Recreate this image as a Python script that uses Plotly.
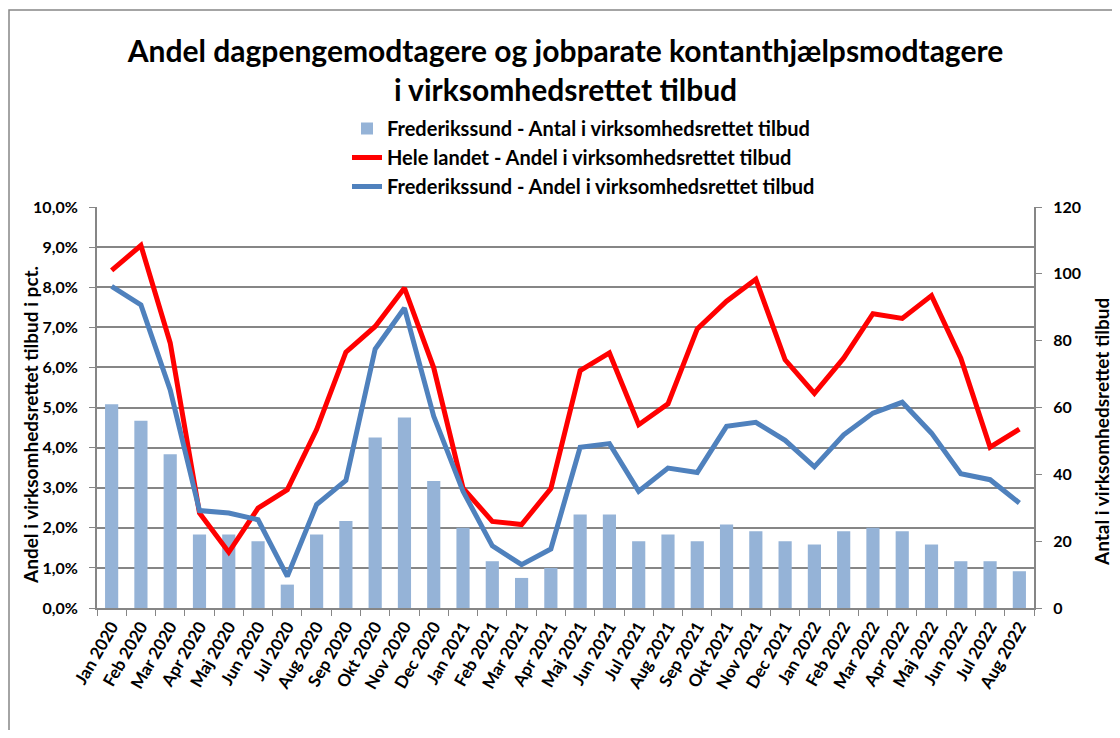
import plotly.graph_objects as go

# Månedlige observationer, jan 2020 - aug 2022
months = ["Jan 2020", "Feb 2020", "Mar 2020", "Apr 2020", "Maj 2020", "Jun 2020",
          "Jul 2020", "Aug 2020", "Sep 2020", "Okt 2020", "Nov 2020", "Dec 2020",
          "Jan 2021", "Feb 2021", "Mar 2021", "Apr 2021", "Maj 2021", "Jun 2021",
          "Jul 2021", "Aug 2021", "Sep 2021", "Okt 2021", "Nov 2021", "Dec 2021",
          "Jan 2022", "Feb 2022", "Mar 2022", "Apr 2022", "Maj 2022", "Jun 2022",
          "Jul 2022", "Aug 2022"]

antal_frederikssund = [61, 56, 46, 22, 22, 20, 7, 22, 26, 51, 57, 38,
                       24, 14, 9, 12, 28, 28, 20, 22, 20, 25, 23, 20,
                       19, 23, 24, 23, 19, 14, 14, 11]

andel_hele_landet = [8.42, 9.04, 6.61, 2.37, 1.39, 2.49, 2.95, 4.45, 6.38, 7.02, 7.98, 5.99,
                     2.99, 2.16, 2.08, 2.98, 5.92, 6.36, 4.57, 5.09, 6.96, 7.65, 8.20, 6.19,
                     5.35, 6.23, 7.34, 7.22, 7.79, 6.23, 4.01, 4.46]

andel_frederikssund = [8.02, 7.56, 5.44, 2.43, 2.37, 2.20, 0.79, 2.58, 3.18, 6.46, 7.48, 4.78,
                       2.91, 1.55, 1.08, 1.47, 4.01, 4.10, 2.91, 3.49, 3.38, 4.53, 4.63, 4.18,
                       3.52, 4.32, 4.86, 5.13, 4.36, 3.35, 3.20, 2.62]

FONT = "Lato"
GRID = "#868686"

# page body adds an 8px margin, so keep the figure inside the window
W, H = 1104, 722
L, R, T, B = 89, 78, 199, 122
PW, PH = W - L - R, H - T - B


def px_x(x):
    # figure pixel -> paper x
    return (x - L) / PW


def px_y(y):
    # figure pixel (from top) -> paper y
    return (H - B - y) / PH


fig = go.Figure()

fig.add_trace(go.Bar(
    x=months, y=antal_frederikssund,
    name="Frederikssund - Antal i virksomhedsrettet tilbud",
    marker=dict(color="#95B3D7", line=dict(width=0)),
    yaxis="y",
))
fig.add_trace(go.Scatter(
    x=months, y=andel_hele_landet, mode="lines",
    name="Hele landet - Andel i virksomhedsrettet tilbud",
    line=dict(color="#FF0000", width=5),
    yaxis="y2",
))
fig.add_trace(go.Scatter(
    x=months, y=andel_frederikssund, mode="lines",
    name="Frederikssund - Andel i virksomhedsrettet tilbud",
    line=dict(color="#4F81BD", width=5),
    yaxis="y2",
))

ytick_font = dict(family=FONT, size=16, color="black", weight="bold")
xtick_font = dict(family=FONT, size=17, color="black", weight="bold")
title_font = dict(family=FONT, size=19, color="black", weight="bold")

fig.update_layout(
    width=W, height=H,
    paper_bgcolor="white", plot_bgcolor="white",
    separators=",.",
    font=dict(family=FONT, color="black"),
    margin=dict(l=L, r=R, t=T, b=B),
    bargap=0.55,
    title=dict(
        text="<b>Andel dagpengemodtagere og jobparate kontanthjælpsmodtagere<br>i virksomhedsrettet tilbud</b>",
        x=0.5, xref="paper", y=1 - 54 / H, yanchor="middle",
        font=dict(family=FONT, size=30, color="black"),
    ),
    legend=dict(
        x=px_x(339), y=px_y(101), xanchor="left", yanchor="top",
        font=dict(family=FONT, size=20, color="black", weight="bold"),
        bgcolor="rgba(0,0,0,0)", tracegroupgap=0,
    ),
    xaxis=dict(
        type="category", tickangle=-60, tickson="boundaries",
        ticks="outside", ticklen=6, tickcolor=GRID,
        showline=True, linecolor=GRID, linewidth=2,
        showgrid=False, tickfont=xtick_font,
    ),
    yaxis=dict(
        side="right", range=[0, 120], dtick=20,
        showgrid=False, zeroline=False,
        ticks="outside", ticklen=6, tickcolor=GRID,
        showline=True, linecolor=GRID, linewidth=2,
        tickfont=ytick_font, ticklabelstandoff=8,
    ),
    yaxis2=dict(
        overlaying="y", side="left", range=[0, 10], dtick=1,
        tickformat=".1f", ticksuffix="%",
        showgrid=True, gridcolor=GRID, gridwidth=2, zeroline=False,
        ticks="outside", ticklen=6, tickcolor=GRID,
        showline=True, linecolor=GRID, linewidth=2,
        tickfont=ytick_font, ticklabelstandoff=8,
    ),
    annotations=[
        dict(text="Andel i virksomhedsrettet tilbud i pct.", textangle=-90,
             xref="paper", yref="paper", x=px_x(22), y=px_y(417),
             xanchor="center", yanchor="middle", showarrow=False, font=title_font),
        dict(text="Antal i virksomhedsrettet tilbud", textangle=-90,
             xref="paper", yref="paper", x=px_x(1093), y=px_y(424),
             xanchor="center", yanchor="middle", showarrow=False, font=title_font),
    ],
    shapes=[dict(
        type="rect", xref="paper", yref="paper",
        x0=px_x(1), x1=px_x(1115),
        y0=px_y(735), y1=px_y(2),
        line=dict(color=GRID, width=1.5), fillcolor="rgba(0,0,0,0)",
        layer="below",
    )],
)

fig.write_html("out.html")
